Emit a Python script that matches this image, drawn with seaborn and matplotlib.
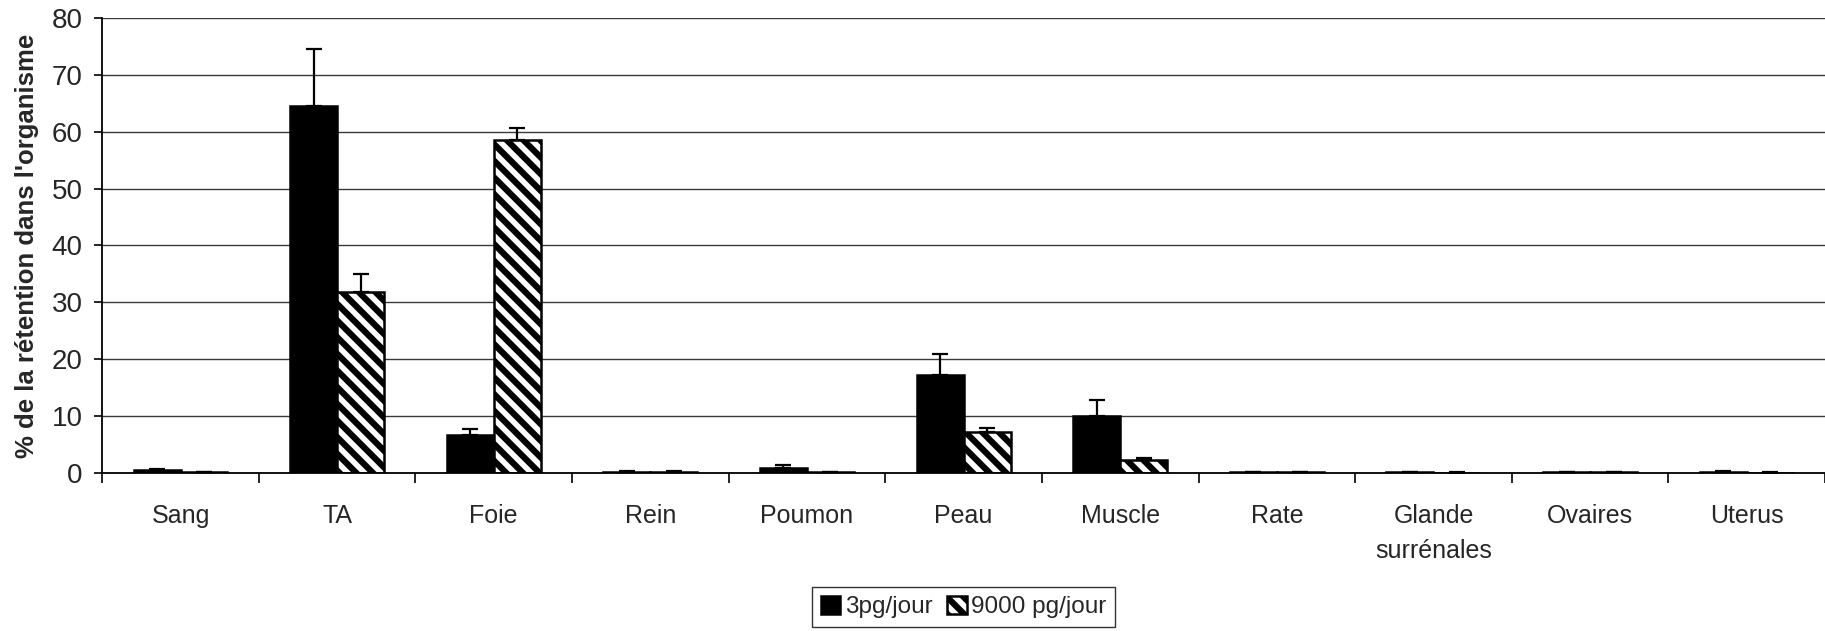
import pandas as pd
import matplotlib
matplotlib.use("Agg")
import matplotlib.pyplot as plt
import seaborn as sns

organs = ["Sang", "TA", "Foie", "Rein", "Poumon", "Peau", "Muscle",
          "Rate", "Glande\nsurrénales", "Ovaires", "Uterus"]
doses = ["3pg/jour", "9000 pg/jour"]
low_mean = [0.5, 64.5, 6.8, 0.3, 1.0, 17.3, 10.0, 0.15, 0.2, 0.15, 0.3]
low_err = [0.2, 10.0, 1.0, 0.1, 0.4, 3.7, 2.8, 0.05, 0.05, 0.05, 0.1]
high_mean = [0.2, 31.8, 58.5, 0.3, 0.2, 7.2, 2.3, 0.15, 0.1, 0.15, 0.1]
high_err = [0.05, 3.2, 2.2, 0.05, 0.05, 0.8, 0.3, 0.05, 0.05, 0.05, 0.05]

df = pd.DataFrame({
    "organe": organs * 2,
    "dose": [doses[0]] * len(organs) + [doses[1]] * len(organs),
    "valeur": low_mean + high_mean,
})
errs = [low_err, high_err]

sns.set_theme(style="white")
plt.rcParams["font.family"] = ["Liberation Sans", "DejaVu Sans"]
plt.rcParams["hatch.linewidth"] = 4.5
plt.rcParams["hatch.color"] = "black"

fig = plt.figure(figsize=(18.25, 6.31), dpi=100)
ax = fig.add_axes([0.056, 0.25, 0.944, 0.722])

sns.barplot(data=df, x="organe", y="valeur", hue="dose", hue_order=doses,
            palette=["black", "white"], width=0.6, errorbar=None,
            edgecolor="black", linewidth=1.8, legend=False, ax=ax)

# hatch on the second series
for p in ax.containers[1].patches:
    p.set_hatch("\\\\")
    p.set_edgecolor("black")

# upward error bars
for cont, e in zip(ax.containers, errs):
    xs = [p.get_x() + p.get_width() / 2 for p in cont.patches]
    hs = [p.get_height() for p in cont.patches]
    ax.errorbar(xs, hs, yerr=[[0] * len(e), e], fmt="none", ecolor="black",
                elinewidth=1.6, capsize=6, capthick=1.6, zorder=5)

ax.set_ylim(0, 80)
ax.set_xlim(-0.5, len(organs) - 0.5)
ax.set_yticks(range(0, 81, 10))
ax.yaxis.grid(True, color="#3a3a3a", linewidth=1.0)
ax.set_axisbelow(True)

ax.set_xlabel("")
ax.set_ylabel("% de la rétention dans l'organisme", fontsize=18.5,
              fontweight="bold", labelpad=9)

ax.set_xticks([i - 0.5 for i in range(len(organs) + 1)], minor=True)
ax.tick_params(axis="x", which="major", length=0, pad=22, labelsize=18)
ax.tick_params(axis="x", which="minor", length=7, width=1.2, color="black",
               direction="out", bottom=True)
ax.tick_params(axis="y", length=6, width=1.2, color="black", direction="out",
               left=True, labelsize=20, pad=8)
for t in ax.get_xticklabels():
    t.set_linespacing(1.6)

for s in ["top", "right"]:
    ax.spines[s].set_visible(False)
for s in ["left", "bottom"]:
    ax.spines[s].set_color("black")
    ax.spines[s].set_linewidth(1.3)

leg = fig.legend(handles=ax.containers, labels=doses, loc="center",
                 bbox_to_anchor=(0.528, 0.038), ncol=2, fontsize=17.5,
                 frameon=True, fancybox=False, handlelength=0.8,
                 handleheight=0.8, handletextpad=0.2, columnspacing=0.6,
                 borderpad=0.35)
leg.get_frame().set_edgecolor("black")
leg.get_frame().set_linewidth(1.0)

fig.savefig("out.png", dpi=100)
